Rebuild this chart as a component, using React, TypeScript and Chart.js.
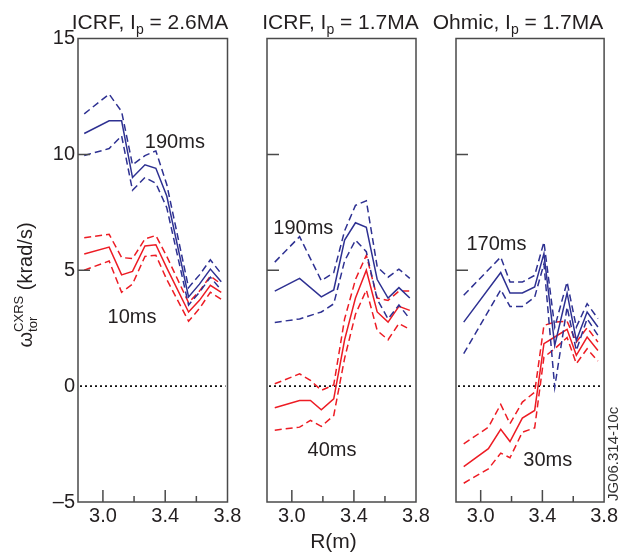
import React, { useEffect, useRef } from 'react';
import { Chart, registerables } from 'chart.js';

Chart.register(...registerables);

const FONT = '"Liberation Sans", Arial, Helvetica, sans-serif';
const BLUE = '#2E3192';
const RED = '#ED1C24';
const INK = '#231F20';
const FRAME = '#4a4a4a';

// ---- axes ----
const xTickValues = [3.0, 3.4, 3.8];
const xMinorTickValues = [3.2, 3.6];
const yTickValues = [-5, 0, 5, 10, 15];
const yInnerTickValues = [5, 10];
const zeroLevel = 0;
const xMin = 2.84;
const xMax = 3.8;
const yMin = -5;
const yMax = 15;

// ---- Panel 1: ICRF, Ip = 2.6MA (190ms / 10ms) ----
const r1 = [2.88, 3.04, 3.12, 3.19, 3.27, 3.34, 3.41, 3.55, 3.62, 3.69, 3.76];
const p1Late = [10.9, 11.45, 11.45, 9.0, 9.55, 9.4, 8.2, 3.85, 4.4, 5.05, 4.5];
const p1LateHi = [11.75, 12.6, 11.85, 9.55, 9.95, 10.15, 8.7, 4.25, 4.8, 5.45, 4.85];
const p1LateLo = [9.95, 10.25, 10.8, 8.45, 9.0, 8.75, 7.7, 3.5, 4.05, 4.7, 4.15];
const p1Early = [5.7, 6.0, 4.8, 4.95, 6.05, 6.1, 5.1, 3.2, 3.7, 4.35, 4.05];
const p1EarlyHi = [6.4, 6.55, 5.55, 5.5, 6.35, 6.5, 5.6, 3.6, 4.1, 4.75, 4.4];
const p1EarlyLo = [5.0, 5.4, 4.05, 4.4, 5.6, 5.65, 4.6, 2.8, 3.35, 4.05, 3.75];

// ---- Panel 2: ICRF, Ip = 1.7MA (190ms / 40ms) ----
const r2 = [2.89, 3.05, 3.12, 3.19, 3.27, 3.34, 3.41, 3.48, 3.55, 3.62, 3.69, 3.76];
const p2Late = [4.1, 4.65, null, 3.85, 4.15, 6.3, 7.05, 6.85, 4.6, 3.8, 4.25, 3.8];
const p2LateHi = [5.35, 6.45, null, 4.55, 4.9, 6.7, 7.8, 8.0, 5.15, 4.7, 5.05, 4.65];
const p2LateLo = [2.75, 2.9, null, 3.2, 3.55, 5.4, 6.3, 5.8, 3.75, 2.9, 3.5, 2.9];
const p2Early = [-0.93, -0.62, -0.62, -1.02, -0.55, 2.0, 3.8, 5.0, 3.2, 2.76, 3.44, 3.27];
const p2EarlyHi = [0.1, 0.53, 0.25, -0.18, 0.05, 2.9, 4.6, 5.65, 3.8, 3.7, 4.1, 4.1];
const p2EarlyLo = [-1.9, -1.77, -1.48, -1.74, -1.27, 1.2, 3.1, 4.15, 2.4, 2.0, 2.7, 2.45];

// ---- Panel 3: Ohmic, Ip = 1.7MA (170ms / 30ms) ----
const r3 = [2.89, 3.05, 3.13, 3.19, 3.27, 3.35, 3.41, 3.48, 3.56, 3.62, 3.69, 3.76];
const p3Late = [2.76, null, 4.9, 4.02, 4.02, 4.28, 5.72, 1.76, 4.02, 1.97, 3.2, 2.55];
const p3LateHi = [3.92, null, 5.57, 4.49, 4.49, 4.78, 6.22, 2.55, 4.49, 2.55, 3.56, 2.91];
const p3LateLo = [1.4, null, 4.16, 3.44, 3.44, 3.84, 5.28, -0.05, 3.41, 1.54, 2.91, 2.19];
const p3Early = [-3.47, -2.7, -1.86, -2.39, -1.38, -1.05, 1.83, 2.12, 2.45, 1.33, 2.12, 1.54];
const p3EarlyHi = [-2.49, -1.77, -0.79, -1.62, -0.69, -0.26, 2.62, 2.76, 2.8, 1.9, 2.52, 1.9];
const p3EarlyLo = [-4.19, -3.57, -2.89, -3.09, -1.99, -1.8, 1.25, 1.61, 2.1, 0.97, 1.61, 1.08];

const titles = [
  ['ICRF, I', 'p', ' = 2.6MA'],
  ['ICRF, I', 'p', ' = 1.7MA'],
  ['Ohmic, I', 'p', ' = 1.7MA'],
];
const lateLabels = ['190ms', '190ms', '170ms'];
const earlyLabels = ['10ms', '40ms', '30ms'];

type PanelCfg = {
  R: number[];
  late: (number | null)[];
  lateHi: (number | null)[];
  lateLo: (number | null)[];
  early: (number | null)[];
  earlyHi: (number | null)[];
  earlyLo: (number | null)[];
  title: string[];
  lateLabel: string;
  earlyLabel: string;
  lateAt: [number, number];
  earlyAt: [number, number];
  left: number;
  right: number;
  titleCenter: number;
  showY: boolean;
  yTitle: boolean;
  xTitle: boolean;
  stamp: boolean;
};

const panels: PanelCfg[] = [
  {
    R: r1, late: p1Late, lateHi: p1LateHi, lateLo: p1LateLo,
    early: p1Early, earlyHi: p1EarlyHi, earlyLo: p1EarlyLo,
    title: titles[0], lateLabel: lateLabels[0], earlyLabel: earlyLabels[0],
    lateAt: [3.462, 10.52], earlyAt: [3.187, 2.96],
    left: 78, right: 227.5, titleCenter: 150, showY: true, yTitle: true, xTitle: false, stamp: false,
  },
  {
    R: r2, late: p2Late, lateHi: p2LateHi, lateLo: p2LateLo,
    early: p2Early, earlyHi: p2EarlyHi, earlyLo: p2EarlyLo,
    title: titles[1], lateLabel: lateLabels[1], earlyLabel: earlyLabels[1],
    lateAt: [3.074, 6.81], earlyAt: [3.259, -2.78],
    left: 267, right: 416, titleCenter: 340.5, showY: false, yTitle: false, xTitle: true, stamp: false,
  },
  {
    R: r3, late: p3Late, lateHi: p3LateHi, lateLo: p3LateLo,
    early: p3Early, earlyHi: p3EarlyHi, earlyLo: p3EarlyLo,
    title: titles[2], lateLabel: lateLabels[2], earlyLabel: earlyLabels[2],
    lateAt: [3.102, 6.12], earlyAt: [3.435, -3.21],
    left: 456, right: 605, titleCenter: 518, showY: false, yTitle: false, xTitle: false, stamp: true,
  },
];

const W = 620;
const H = 553;
const TOP = 38.5;
const BOTTOM = 502;
const Y_AXIS_W = 40;
const X_AXIS_H = 30;

function pts(R: number[], v: (number | null)[]) {
  return R.map((x, i) => ({ x, y: v[i] }));
}

function line(R: number[], v: (number | null)[], color: string, dashed: boolean) {
  return {
    data: pts(R, v),
    borderColor: color,
    backgroundColor: color,
    borderWidth: 1.5,
    borderDash: dashed ? [7, 4] : [],
    pointRadius: 0,
    tension: 0,
    fill: false,
    spanGaps: true,
    showLine: true,
  };
}

type Part = { t: string; size: number; dy?: number };

function drawParts(ctx: CanvasRenderingContext2D, parts: Part[], x: number, y: number) {
  ctx.textAlign = 'left';
  ctx.textBaseline = 'alphabetic';
  let total = 0;
  const widths = parts.map((p) => {
    ctx.font = `${p.size}px ${FONT}`;
    const w = ctx.measureText(p.t).width;
    total += w;
    return w;
  });
  let cx = x - total / 2;
  parts.forEach((p, i) => {
    ctx.font = `${p.size}px ${FONT}`;
    ctx.fillText(p.t, cx, y + (p.dy || 0));
    cx += widths[i];
  });
}

function makeOptions(p: PanelCfg) {
  return {
    responsive: false,
    animation: false as const,
    devicePixelRatio: 1,
    events: [] as any[],
    layout: {
      padding: { left: p.left - Y_AXIS_W, right: W - p.right, top: TOP, bottom: H - BOTTOM - X_AXIS_H },
    },
    plugins: { legend: { display: false }, tooltip: { enabled: false }, title: { display: false } },
    scales: {
      x: {
        type: 'linear' as const,
        min: xMin,
        max: xMax,
        grid: { display: false, drawTicks: false },
        border: { display: false },
        afterFit: (s: any) => { s.height = X_AXIS_H; },
        afterBuildTicks: (s: any) => { s.ticks = xTickValues.map((v) => ({ value: v })); },
        ticks: {
          callback: (v: any) => Number(v).toFixed(1),
          font: { family: FONT, size: 20 },
          color: INK,
          padding: 2,
          maxRotation: 0,
          autoSkip: false,
        },
      },
      y: {
        type: 'linear' as const,
        min: yMin,
        max: yMax,
        grid: { display: false, drawTicks: false },
        border: { display: false },
        afterFit: (s: any) => { s.width = Y_AXIS_W; },
        afterBuildTicks: (s: any) => { s.ticks = yTickValues.map((v) => ({ value: v })); },
        ticks: {
          display: p.showY,
          callback: (v: any) => (Number(v) < 0 ? '\u2013' + Math.abs(Number(v)) : String(v)),
          font: { family: FONT, size: 20 },
          color: INK,
          padding: 3,
          autoSkip: false,
        },
      },
    },
  };
}

function makePlugin(p: PanelCfg) {
  return {
    id: 'panelDeco',
    beforeDatasetsDraw(chart: any) {
      const { ctx, chartArea, scales } = chart;
      const y0 = scales.y.getPixelForValue(zeroLevel);
      ctx.save();
      ctx.strokeStyle = '#111';
      ctx.lineWidth = 1.6;
      ctx.setLineDash([2, 3]);
      ctx.beginPath();
      ctx.moveTo(chartArea.left + 2, y0);
      ctx.lineTo(chartArea.right - 2, y0);
      ctx.stroke();
      ctx.restore();
    },
    afterDraw(chart: any) {
      const { ctx, chartArea, scales } = chart;
      const xs = scales.x;
      const ys = scales.y;
      ctx.save();
      // frame
      ctx.strokeStyle = FRAME;
      ctx.lineWidth = 1.5;
      ctx.setLineDash([]);
      ctx.strokeRect(chartArea.left, chartArea.top, chartArea.right - chartArea.left, chartArea.bottom - chartArea.top);
      // inner ticks
      ctx.beginPath();
      xTickValues.forEach((v) => {
        const px = xs.getPixelForValue(v);
        if (px > chartArea.left + 1 && px < chartArea.right - 1) {
          ctx.moveTo(px, chartArea.bottom);
          ctx.lineTo(px, chartArea.bottom - 12);
        }
      });
      xMinorTickValues.forEach((v) => {
        const px = xs.getPixelForValue(v);
        ctx.moveTo(px, chartArea.bottom);
        ctx.lineTo(px, chartArea.bottom - 6);
      });
      yInnerTickValues.forEach((v) => {
        const py = ys.getPixelForValue(v);
        ctx.moveTo(chartArea.left, py);
        ctx.lineTo(chartArea.left + 12, py);
      });
      ctx.stroke();

      ctx.fillStyle = INK;
      // title
      drawParts(ctx, [
        { t: p.title[0], size: 21 },
        { t: p.title[1], size: 14, dy: 5 },
        { t: p.title[2], size: 21 },
      ], p.titleCenter, 29);

      // time labels
      ctx.font = `20px ${FONT}`;
      ctx.textAlign = 'center';
      ctx.textBaseline = 'middle';
      ctx.fillText(p.lateLabel, xs.getPixelForValue(p.lateAt[0]), ys.getPixelForValue(p.lateAt[1]));
      ctx.fillText(p.earlyLabel, xs.getPixelForValue(p.earlyAt[0]), ys.getPixelForValue(p.earlyAt[1]));

      if (p.xTitle) {
        ctx.font = `21px ${FONT}`;
        ctx.textAlign = 'center';
        ctx.textBaseline = 'alphabetic';
        ctx.fillText('R(m)', (chartArea.left + chartArea.right) / 2 - 8, 548);
      }

      if (p.yTitle) {
        ctx.save();
        ctx.translate(32, 285);
        ctx.rotate(-Math.PI / 2);
        ctx.textBaseline = 'alphabetic';
        ctx.textAlign = 'left';
        ctx.font = `20px ${FONT}`;
        const wOmega = ctx.measureText('\u03c9').width;
        ctx.font = `13px ${FONT}`;
        const wSup = ctx.measureText('CXRS').width;
        const wSub = ctx.measureText('tor').width;
        ctx.font = `20px ${FONT}`;
        const wRest = ctx.measureText(' (krad/s)').width;
        const wScript = Math.max(wSup, wSub);
        const total = wOmega + wScript + wRest;
        let x = -total / 2;
        ctx.fillText('\u03c9', x, 0);
        x += wOmega;
        ctx.font = `13px ${FONT}`;
        ctx.fillText('CXRS', x, -9);
        ctx.fillText('tor', x, 5);
        x += wScript;
        ctx.font = `20px ${FONT}`;
        ctx.fillText(' (krad/s)', x, 0);
        ctx.restore();
      }

      if (p.stamp) {
        ctx.save();
        ctx.translate(618, 501);
        ctx.rotate(-Math.PI / 2);
        ctx.font = `15px ${FONT}`;
        ctx.textAlign = 'left';
        ctx.textBaseline = 'alphabetic';
        ctx.fillStyle = '#333';
        ctx.fillText('JG06.314-10c', 0, 0);
        ctx.restore();
      }
      ctx.restore();
    },
  };
}

function PanelCanvas({ p }: { p: PanelCfg }) {
  const ref = useRef<HTMLCanvasElement | null>(null);
  useEffect(() => {
    if (!ref.current) return;
    const chart = new Chart(ref.current, {
      type: 'line',
      data: {
        datasets: [
          line(p.R, p.lateHi, BLUE, true),
          line(p.R, p.lateLo, BLUE, true),
          line(p.R, p.late, BLUE, false),
          line(p.R, p.earlyHi, RED, true),
          line(p.R, p.earlyLo, RED, true),
          line(p.R, p.early, RED, false),
        ],
      },
      options: makeOptions(p) as any,
      plugins: [makePlugin(p)],
    });
    return () => chart.destroy();
  }, [p]);
  return (
    <canvas
      ref={ref}
      width={W}
      height={H}
      style={{ position: 'absolute', left: 0, top: 0, width: W, height: H }}
    />
  );
}

export default function App() {
  return (
    <div style={{ position: 'fixed', left: 0, top: 0, width: W, height: H, background: '#fff', overflow: 'hidden' }}>
      {panels.map((p, i) => (
        <PanelCanvas key={i} p={p} />
      ))}
    </div>
  );
}
